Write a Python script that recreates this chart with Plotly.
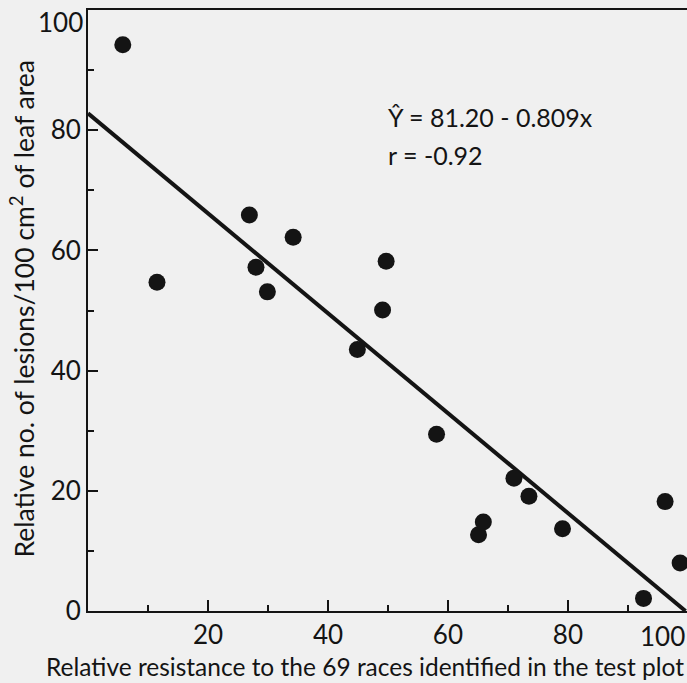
import plotly.graph_objects as go

# Data
resistance = [5.8, 11.5, 26.9, 28.0, 29.9, 34.2, 44.9, 49.1, 49.7, 58.1,
              65.1, 65.9, 71.0, 73.5, 79.1, 92.6, 96.2, 98.7]
lesions = [94.2, 54.7, 65.9, 57.2, 53.1, 62.2, 43.5, 50.1, 58.2, 29.4,
           12.7, 14.8, 22.1, 19.1, 13.7, 2.1, 18.2, 8.0]

# Regression line as drawn (end points)
line_x = [0, 99.6]
line_y = [82.8, 0]

x_major = [20, 40, 60, 80]
x_labels = ["20", "40", "60", "80"]
x_minor = [10, 30, 50, 70, 90]
y_major = [0, 20, 40, 60, 80, 100]
y_labels = ["0", "20", "40", "60", "80", " "]
y_minor = [10, 30, 50, 70, 90]

FONT = "Lato"
INK = "#141414"
BG = "#f0f0f0"

fig = go.Figure()
fig.add_trace(go.Scatter(x=line_x, y=line_y, mode="lines",
                         line=dict(color=INK, width=4), hoverinfo="skip",
                         showlegend=False, cliponaxis=False))
fig.add_trace(go.Scatter(x=resistance, y=lesions, mode="markers",
                         marker=dict(color=INK, size=17),
                         showlegend=False, cliponaxis=False))

fig.update_layout(
    width=687, height=683,
    margin=dict(l=88, r=0, t=10, b=72),
    paper_bgcolor=BG, plot_bgcolor=BG,
    font=dict(family=FONT, color=INK, size=22),
    xaxis=dict(range=[0, 99.85], showgrid=False, zeroline=False,
               showline=True, linecolor=INK, linewidth=2, mirror=True,
               tickmode="array", tickvals=x_major, ticktext=x_labels,
               ticks="inside", ticklen=11, tickwidth=2, tickcolor=INK,
               tickfont=dict(size=26, family=FONT),
               minor=dict(tickvals=x_minor, ticks="inside",
                          ticklen=6, tickwidth=2, tickcolor=INK)),
    yaxis=dict(range=[0, 100], showgrid=False, zeroline=False,
               showline=True, linecolor=INK, linewidth=2,
               tickmode="array", tickvals=y_major, ticktext=y_labels,
               ticks="inside", ticklen=10, tickwidth=2, tickcolor=INK,
               tickfont=dict(size=26, family=FONT),
               minor=dict(tickvals=y_minor, ticks="inside",
                          ticklen=6, tickwidth=2, tickcolor=INK)),
    annotations=[
        dict(text="100", xref="paper", yref="paper", x=1.0, y=0,
             xanchor="right", yanchor="top", yshift=-7, showarrow=False,
             font=dict(size=26, family=FONT)),
        dict(text="100", xref="paper", yref="paper", x=0, y=1.0,
             xanchor="right", yanchor="middle", xshift=-3, yshift=-12,
             showarrow=False, font=dict(size=26, family=FONT)),
        dict(text="Relative resistance to the 69 races identified in the test plot",
             xref="paper", yref="paper", x=0.462, y=-0.093,
             xanchor="center", yanchor="middle", showarrow=False,
             font=dict(size=24.5, family=FONT)),
        dict(text="Relative no. of lesions/100 cm<sup>2</sup> of leaf area",
             xref="paper", yref="paper", x=-0.109, y=0.503, textangle=-90,
             xanchor="center", yanchor="middle", showarrow=False,
             font=dict(size=26.5, family=FONT)),
        dict(text="Ŷ = 81.20 - 0.809x", xref="paper", yref="paper",
             x=0.497, y=0.822, xanchor="left", yanchor="middle",
             showarrow=False, font=dict(size=25, family=FONT)),
        dict(text="r = -0.92", xref="paper", yref="paper",
             x=0.497, y=0.759, xanchor="left", yanchor="middle",
             showarrow=False, font=dict(size=25, family=FONT)),
    ],
)

fig.write_html("out.html", config={"displayModeBar": False},
               post_script="document.body.style.margin='0';document.body.style.overflow='hidden';")
